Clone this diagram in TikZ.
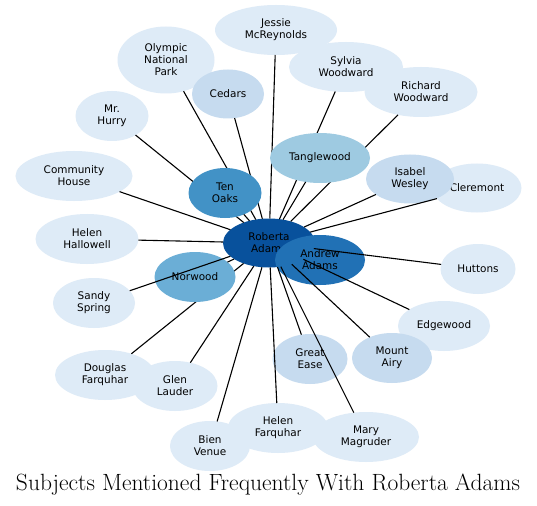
\documentclass[tikz,border=0pt]{standalone}
\usepackage{fontspec}
\newfontfamily\nodefont{DejaVu Sans}
\usetikzlibrary{shapes.geometric}
\definecolor{cA}{HTML}{08519C}
\definecolor{cB}{HTML}{2171B5}
\definecolor{cC}{HTML}{4292C6}
\definecolor{cD}{HTML}{6BAED6}
\definecolor{cE}{HTML}{9ECAE1}
\definecolor{cF}{HTML}{C6DBEF}
\definecolor{cG}{HTML}{DEEBF7}
\tikzset{
  bub/.style={ellipse, inner sep=0pt, outer sep=0pt, align=center,
    font=\nodefont\fontsize{10.5}{12}\selectfont, text=black},
  lite/.style={bub, fill=cG},
  midl/.style={bub, fill=cF},
  link/.style={draw=black, line width=1.1bp},
}
\begin{document}
\begin{tikzpicture}[x=1bp,y=-1bp]
\useasboundingbox[fill=white] (0,0) rectangle (537,506);
% light nodes
\node[lite, minimum width=122bp, minimum height=50bp] (jes) at (276,30) {Jessie\\McReynolds};
\node[lite, minimum width=97bp, minimum height=67bp] (oly) at (166,60) {Olympic\\National\\Park};
\node[midl, minimum width=72bp, minimum height=49bp] (ced) at (228,94) {Cedars};
\node[lite, minimum width=114bp, minimum height=50bp] (syl) at (346,67) {Sylvia\\Woodward};
\node[lite, minimum width=113bp, minimum height=50bp] (ric) at (421,92) {Richard\\Woodward};
\node[lite, minimum width=73bp, minimum height=50bp] (hur) at (112,116) {Mr.\\Hurry};
\node[lite, minimum width=117bp, minimum height=50bp] (com) at (74,176) {Community\\House};
\node[lite, minimum width=103bp, minimum height=50bp] (hal) at (87,239) {Helen\\Hallowell};
\node[lite, minimum width=82bp, minimum height=50bp] (san) at (94,303) {Sandy\\Spring};
\node[lite, minimum width=100bp, minimum height=50bp] (dou) at (105,375) {Douglas\\Farquhar};
\node[lite, minimum width=85bp, minimum height=50bp] (gle) at (175,386) {Glen\\Lauder};
\node[lite, minimum width=80bp, minimum height=50bp] (bie) at (210,446) {Bien\\Venue};
\node[lite, minimum width=100bp, minimum height=50bp] (hfa) at (278,428) {Helen\\Farquhar};
\node[lite, minimum width=106bp, minimum height=50bp] (mar) at (366,437) {Mary\\Magruder};
\node[lite, minimum width=92bp, minimum height=50bp] (edg) at (444,326) {Edgewood};
\node[lite, minimum width=75bp, minimum height=50bp] (hut) at (478,269) {Huttons};
\node[lite, minimum width=89bp, minimum height=49bp] (cle) at (477,188) {Cleremont};
\node[midl, minimum width=88bp, minimum height=49bp] (isa) at (410,179) {Isabel\\Wesley};
\node[midl, minimum width=75bp, minimum height=50bp] (gre) at (310,359) {Great\\Ease};
\node[midl, minimum width=80bp, minimum height=50bp] (mou) at (392,358) {Mount\\Airy};
% central nodes
\node[bub, fill=cA, minimum width=92bp, minimum height=49bp] (rob) at (269,243) {Roberta\\Adams};
\node[bub, fill=cB, minimum width=90bp, minimum height=50bp] (and) at (320,260) {Andrew\\Adams};
% edges
\foreach \t in {jes,oly,ced,syl,ric,hur,com,hal,dou,gle,bie,hfa,mar,edg,hut,cle,isa,gre,mou}
  \draw[link] (rob) -- (\t);
% mid-blue nodes drawn over edges
\node[bub, fill=cC, minimum width=73bp, minimum height=50bp] (ten) at (225,193) {Ten\\Oaks};
\node[bub, fill=cE, minimum width=100bp, minimum height=50bp] (tan) at (320,158) {Tanglewood};
\node[bub, fill=cD, minimum width=81bp, minimum height=50bp] (nor) at (195,277) {Norwood};
\draw[link] (rob) -- (ten);
\draw[link] (rob) -- (tan);
\draw[link] (rob) -- (nor);
\draw[link] (rob) -- (san);
% title
\node (title) at (268,485) {\resizebox{504bp}{!}{\fontsize{20}{24}\selectfont Subjects Mentioned Frequently With Roberta Adams}};
\end{tikzpicture}
\end{document}
